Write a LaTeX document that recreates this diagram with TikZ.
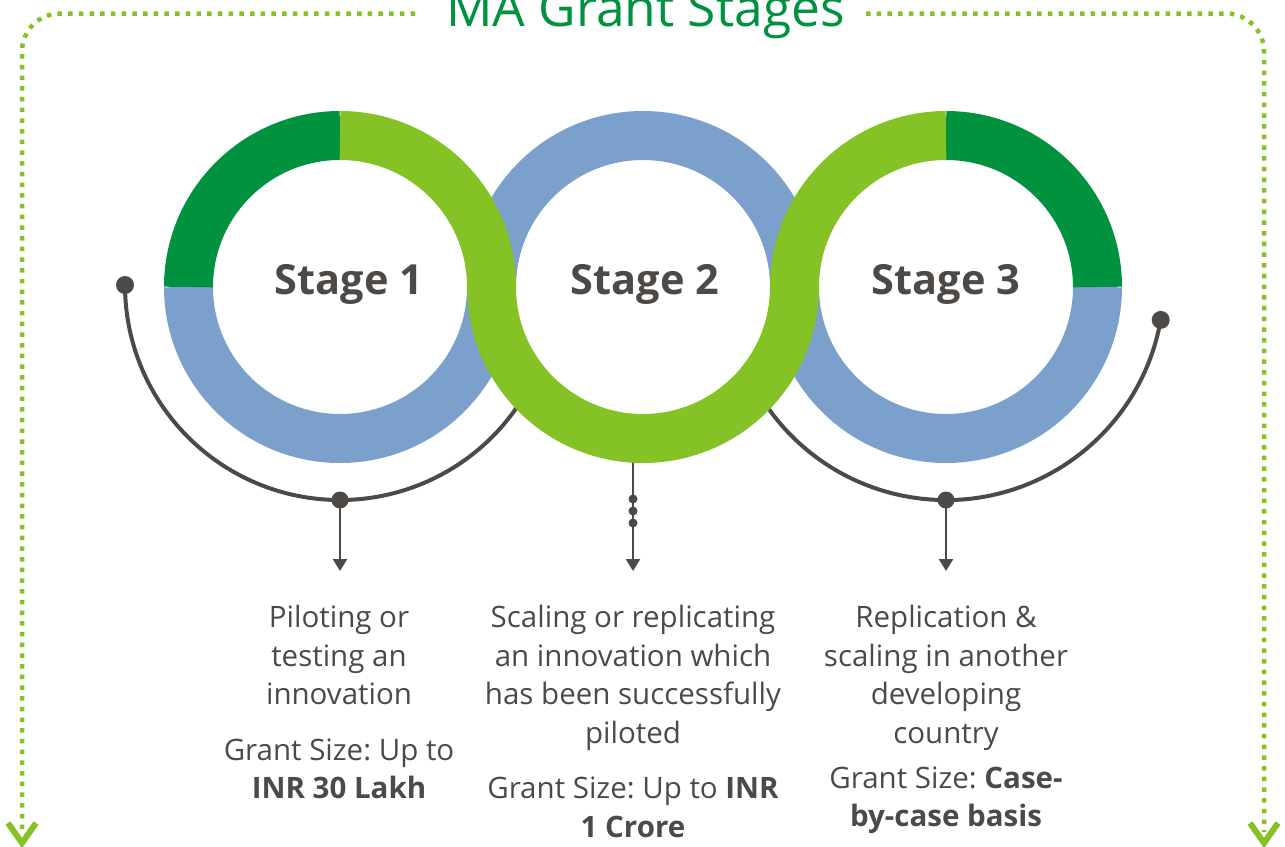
\documentclass[tikz,border=0pt]{standalone}
\usepackage{fontspec}
\setmainfont{Open Sans}
\usetikzlibrary{arrows.meta,calc}
\definecolor{dkgreen}{RGB}{0,146,63}
\definecolor{ltgreen}{RGB}{132,194,37}
\definecolor{ringblue}{RGB}{122,160,203}
\definecolor{greyc}{RGB}{77,73,70}
\begin{document}
\frenchspacing
\begin{tikzpicture}[x=1pt,y=-1pt,
  frame/.style={draw=ltgreen, line width=4.5pt, dash pattern=on 4.5pt off 6.2pt, rounded corners=38pt},
  vtip/.style={draw=ltgreen, line width=6pt, line join=miter},
  ring/.style={line width=49pt, line cap=butt},
  garc/.style={draw=greyc, line width=4pt},
  conn/.style={draw=greyc, line width=2.5pt, -{Triangle[width=14pt,length=12pt]}},
  bigdot/.style={circle, fill=greyc, inner sep=0pt, minimum size=18pt},
  smalldot/.style={circle, fill=greyc, inner sep=0pt, minimum size=9pt},
  body/.style={font=\fontsize{29.5}{34}\selectfont\frenchspacing, text=greyc, anchor=base, inner sep=0pt},
  stagelbl/.style={font=\fontsize{41.5}{48}\selectfont\bfseries, text=greyc, anchor=base, inner sep=0pt},
  titlelbl/.style={font=\fontsize{51.5}{60}\selectfont, text=dkgreen, anchor=base, inner sep=0pt}
]
\useasboundingbox (0,0) rectangle (1285,846);

% frame
\coordinate (fL0) at (415,13.5);
\coordinate (fLc) at (22,13.5);
\coordinate (fLb) at (22,832);
\coordinate (fR0) at (866,13.5);
\coordinate (fRc) at (1264,13.5);
\coordinate (fRb) at (1264,832);
\draw[frame] (fL0) -- (fLc) -- (fLb);
\draw[frame] (fR0) -- (fRc) -- (fRb);
\coordinate (vL) at (22,843);
\coordinate (vR) at (1264,843);
\draw[vtip] ($(vL)+(-14,-20)$) -- (vL) -- ($(vL)+(14,-20)$);
\draw[vtip] ($(vR)+(-14,-20)$) -- (vR) -- ($(vR)+(14,-20)$);

\node[titlelbl] (title) at (645.5,26) {MA Grant Stages};

% centres
\coordinate (c1) at (340,287);
\coordinate (c2) at (643,287);
\coordinate (c3) at (946,287);

% grey arcs (under rings)
\node[bigdot] (e1) at (125,285) {};
\node[bigdot] (e3) at (1160.7,319.9) {};
\draw[garc] (e1.center) arc[start angle=180, end angle=30, radius=215];
\draw[garc] (e3.center) arc[start angle=10, end angle=150, radius=218];

% middle connector (under ring)
\coordinate (m0) at (633,445);
\coordinate (m4) at (633,571);
\draw[conn] (m0) -- (m4);

% rings
\draw[ring, ringblue] (c1) ++(0:151.5) arc[start angle=0, end angle=180, radius=151.5];
\draw[ring, dkgreen] (c1) ++(180:151.5) arc[start angle=180, end angle=270, radius=151.5];
\draw[ring, ringblue] (c2) ++(180:151.5) arc[start angle=180, end angle=360, radius=151.5];
\draw[ring, ringblue] (c3) ++(0:151.5) arc[start angle=0, end angle=180, radius=151.5];
\draw[ring, dkgreen] (c3) ++(270:151.5) arc[start angle=270, end angle=360, radius=151.5];
\draw[ring, ltgreen] (c1) ++(270:151.5)
  arc[start angle=270, end angle=360, radius=151.5]
  arc[start angle=180, end angle=0, radius=151.5]
  arc[start angle=180, end angle=270, radius=151.5];

% stage labels
\node[stagelbl] (s1) at (349,294) {Stage 1};
\node[stagelbl] (s2) at (645,294) {Stage 2};
\node[stagelbl] (s3) at (946,294) {Stage 3};

% bottom dots and connectors
\node[bigdot, minimum size=17pt] (b1) at (340,500) {};
\node[bigdot, minimum size=17pt] (b3) at (946,500) {};
\coordinate (a1) at (340,571);
\coordinate (a3) at (946,571);
\draw[conn] (b1.center) -- (a1);
\draw[conn] (b3.center) -- (a3);
\node[smalldot] (md1) at (633,499) {};
\node[smalldot] (md2) at (633,511) {};
\node[smalldot] (md3) at (633,523) {};

% column 1
\node[body] (t1a) at (339,627) {Piloting or};
\node[body] (t1b) at (339,666) {testing an};
\node[body] (t1c) at (339,704) {innovation};
\node[body] (t1d) at (339,760) {Grant Size: Up to};
\node[body] (t1e) at (339,798) {\textbf{INR 30 Lakh}};

% column 2
\node[body] (t2a) at (633,627) {Scaling or replicating};
\node[body] (t2b) at (633,666) {an innovation which};
\node[body] (t2c) at (633,704) {has been successfully};
\node[body] (t2d) at (633,743) {piloted};
\node[body] (t2e) at (633,798) {Grant Size: Up to \textbf{INR}};
\node[body] (t2f) at (633,837) {\textbf{1 Crore}};

% column 3
\node[body] (t3a) at (946,627) {Replication \&};
\node[body] (t3b) at (946,666) {scaling in another};
\node[body] (t3c) at (946,704) {developing};
\node[body] (t3d) at (946,743) {country};
\node[body] (t3e) at (946,788) {Grant Size: \textbf{Case-}};
\node[body] (t3f) at (946,826) {\textbf{by-case basis}};
\end{tikzpicture}
\end{document}
